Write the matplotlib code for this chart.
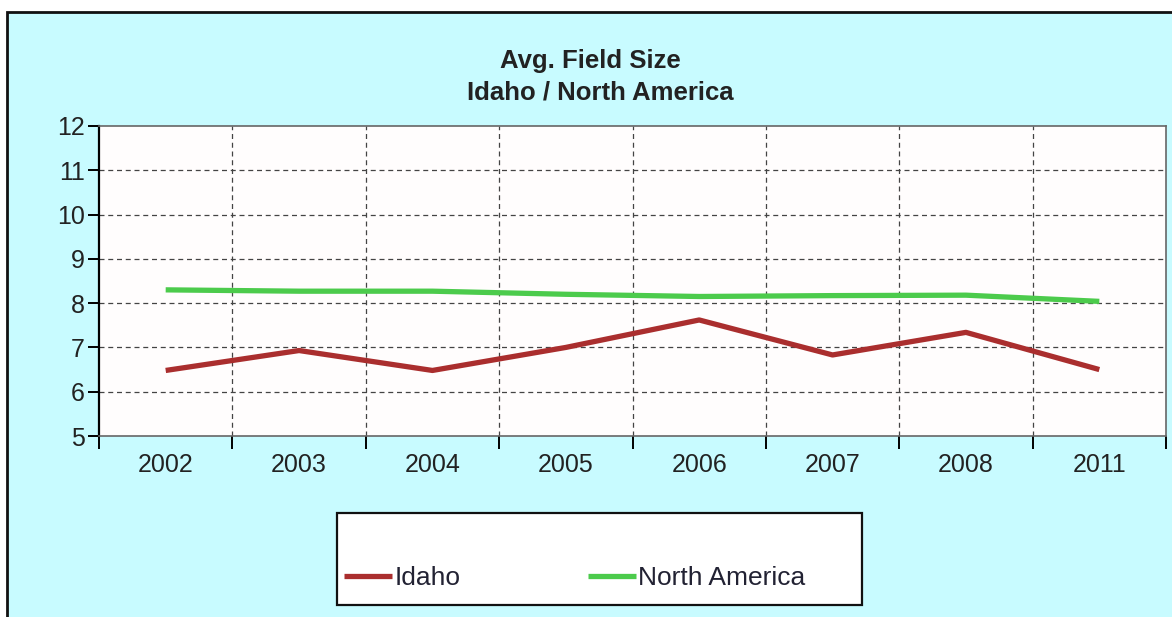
import numpy as np
import matplotlib
matplotlib.use('Agg')
import matplotlib.pyplot as plt
from matplotlib.patches import Rectangle

plt.rcParams['font.family'] = ['Liberation Sans', 'DejaVu Sans']

years = ['2002', '2003', '2004', '2005', '2006', '2007', '2008', '2011']
idaho = [6.48, 6.93, 6.48, 7.0, 7.62, 6.83, 7.34, 6.5]
north_america = [8.3, 8.27, 8.27, 8.2, 8.15, 8.17, 8.18, 8.04]

W, H = 1172, 617
fig = plt.figure(figsize=(W / 100, H / 100), dpi=100)
fig.patch.set_facecolor('white')

# cyan panel with black border (cut off right / bottom)
fig.patches.append(Rectangle((7 / W, -0.05), 1.1, 1 - 12 / H + 0.05,
                             transform=fig.transFigure, facecolor='#C8FBFF',
                             edgecolor='#111111', lw=2, zorder=-10))

ax = fig.add_axes([99 / W, 1 - 436 / H, 1067 / W, 310 / H])
ax.set_zorder(1)
ax.set_facecolor('#FFFDFD')

x = np.arange(len(years))
ax.plot(x, idaho, color='#AA2E2E', lw=3.8, label='Idaho', solid_capstyle='butt', zorder=3)
ax.plot(x, north_america, color='#4CCB4C', lw=3.8, label='North America', solid_capstyle='butt', zorder=3)

ax.set_xlim(-0.5, len(years) - 0.5)
ax.set_ylim(5, 12)
ax.set_yticks(range(5, 13))
ax.set_xticks(x)
ax.set_xticklabels(years)
ax.set_xticks(np.arange(-0.5, len(years)), minor=True)

ax.tick_params(axis='x', which='major', length=0, pad=12, labelsize=18, labelcolor='#222222')
ax.tick_params(axis='x', which='minor', length=9, width=1.4, color='black')
ax.tick_params(axis='y', length=8, width=1.4, pad=2, labelsize=18, labelcolor='#222222')

ax.grid(False)
for v in range(6, 12):
    ax.axhline(v, color='#444444', lw=0.9, ls=(0, (4, 3)), zorder=1)
for b in np.arange(0.5, len(years) - 0.5):
    ax.axvline(b, color='#444444', lw=0.9, ls=(0, (4, 3)), zorder=1)

for side in ['top', 'right', 'bottom']:
    ax.spines[side].set_color('#666666')
    ax.spines[side].set_linewidth(1.2)
ax.spines['left'].set_color('black')
ax.spines['left'].set_linewidth(1.6)

fig.text(590 / W, 1 - 61 / H, 'Avg. Field Size', ha='center', va='center',
         fontsize=18.5, fontweight='bold', color='#222222')
fig.text(600 / W, 1 - 93 / H, 'Idaho / North America', ha='center', va='center',
         fontsize=18.5, fontweight='bold', color='#222222')

# legend box
fig.patches.append(Rectangle((337 / W, 1 - 605 / H), 525 / W, 92 / H,
                             transform=fig.transFigure, facecolor='white',
                             edgecolor='#111111', lw=1.6, zorder=2))
leg = fig.legend(loc='center left', bbox_to_anchor=(344 / W, 1 - 578 / H),
                 ncol=2, frameon=False, fontsize=19, handlelength=1.8,
                 handletextpad=0.1, columnspacing=4.85, borderpad=0, borderaxespad=0)
for t in leg.get_texts():
    t.set_color('#222233')
leg.set_zorder(3)

fig.savefig('out.png', dpi=100)
